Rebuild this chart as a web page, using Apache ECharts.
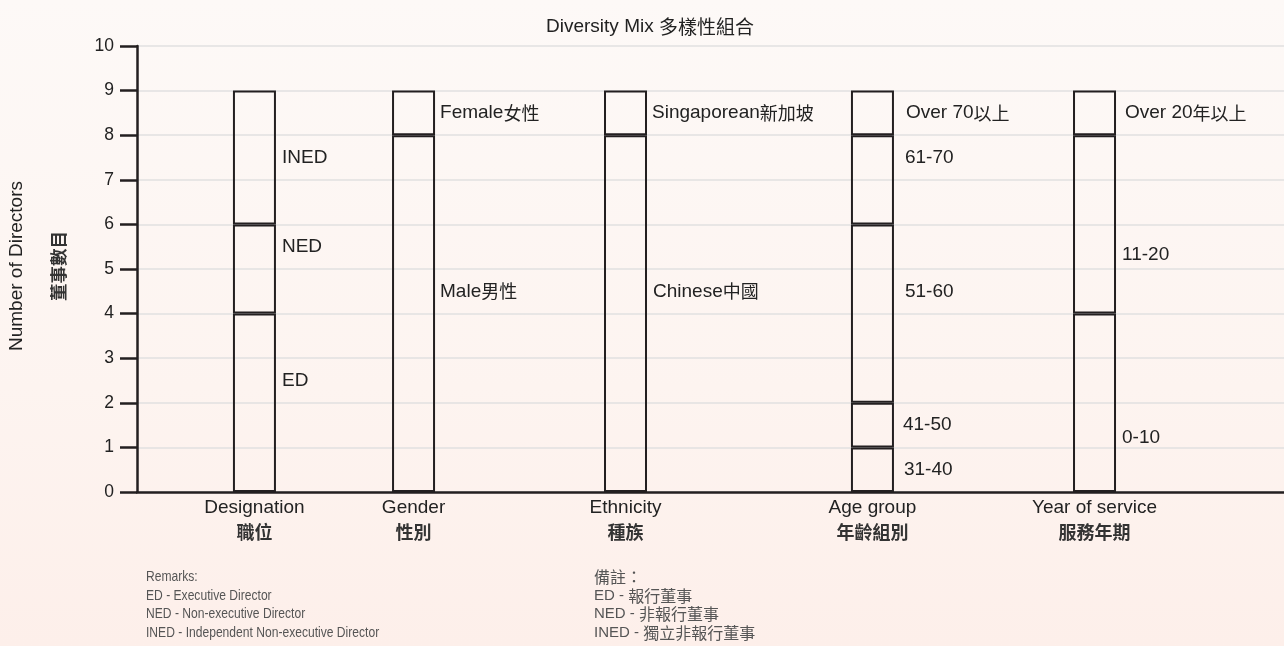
<!DOCTYPE html>
<html>
<head>
<meta charset="utf-8">
<script src="https://cdn.jsdelivr.net/npm/echarts@6/dist/echarts.min.js"></script>
<style>
html,body{margin:0;padding:0;}
body{width:1284px;height:646px;background:linear-gradient(180deg,#fdf9f7 0%,#fdf4f0 60%,#fdefea 100%);}
#chart{width:1284px;height:646px;}
</style>
</head>
<body>
<div id="chart"></div>
<script>
// ---------------- DATA ----------------
const categories = ['Designation', 'Gender', 'Ethnicity', 'Age group', 'Year of service'];
const categoriesZh = ['職位', '性別', '種族', '年齡組別', '服務年期'];

const designationValues = [4, 2, 3];
const designationLabels = ['ED', 'NED', 'INED'];
const genderValues = [8, 1];
const genderLabels = ['Male男性', 'Female女性'];
const ethnicityValues = [8, 1];
const ethnicityLabels = ['Chinese中國', 'Singaporean新加坡'];
const ageValues = [1, 1, 4, 2, 1];
const ageLabels = ['31-40', '41-50', '51-60', '61-70', 'Over 70以上'];
const serviceValues = [4, 4, 1];
const serviceLabels = ['0-10', '11-20', 'Over 20年以上'];

const yTickLabels = ['0', '1', '2', '3', '4', '5', '6', '7', '8', '9', '10'];

const titleText = 'Diversity Mix 多樣性組合';
const yNameEn = 'Number of Directors';
const yNameZh = '董事數目';
const remarksEn = ['Remarks:', 'ED - Executive Director', 'NED - Non-executive Director', 'INED - Independent Non-executive Director'];
const remarksZh = ['備註：', 'ED - 報行董事', 'NED - 非報行董事', 'INED - 獨立非報行董事'];

// ---------------- LAYOUT / STYLE ----------------
const groupValues = [designationValues, genderValues, ethnicityValues, ageValues, serviceValues];
const groupLabels = [designationLabels, genderLabels, ethnicityLabels, ageLabels, serviceLabels];
// horizontal slot of each group on a 0-100 x scale
const slotPos = [10.24, 24.11, 42.59, 64.12, 83.48];
// label nudges [distance, dy]
const labelNudge = {
  'ED': [6, -22], 'NED': [6, -22], 'INED': [6, 0],
  'Male男性': [5, -22], 'Female女性': [5, 0],
  'Chinese中國': [6, -22], 'Singaporean新加坡': [5, 0],
  '31-40': [10, 0], '41-50': [9, 0], '51-60': [11, -22], '61-70': [11, -22], 'Over 70以上': [12, 0],
  '0-10': [6, 35], '11-20': [6, 30], 'Over 20年以上': [9, 0]
};
const ink = '#231f20';
const textColor = '#222222';
const fontEn = '"Liberation Sans", Arial, "Noto Sans CJK TC", sans-serif';
const fontZh = '"Noto Sans CJK TC", sans-serif';
const toRich = s => s.replace(/([\u3000-\u9fff\uff00-\uffef]+)/g, '{zh|$1}');

const maxLevels = Math.max(...groupValues.map(v => v.length));
const series = [];
for (let k = 0; k < maxLevels; k++) {
  series.push({
    type: 'bar',
    stack: 'all',
    barWidth: 43,
    encode: { x: 1, y: 0 },
    itemStyle: { color: 'rgba(0,0,0,0)', borderColor: ink, borderWidth: 2 },
    emphasis: { disabled: true },
    data: groupValues.map((vals, i) => {
      if (k >= vals.length) return { value: ['-', slotPos[i]] };
      const name = groupLabels[i][k];
      const n = labelNudge[name] || [6, 0];
      return {
        value: [vals[k], slotPos[i]],
        label: {
          show: true, position: 'right', distance: n[0], offset: [0, n[1]],
          formatter: () => toRich(name), color: textColor, fontSize: 19, fontFamily: fontEn,
          rich: { zh: { fontSize: 18, color: textColor, fontFamily: fontZh } }
        }
      };
    })
  });
}

const chart = echarts.init(document.getElementById('chart'), null, { renderer: 'canvas' });
chart.setOption({
  backgroundColor: 'transparent',
  animation: false,
  title: {
    text: toRich(titleText), left: 645, top: 12, textAlign: 'center',
    textStyle: {
      fontSize: 19, fontWeight: 'normal', color: textColor, fontFamily: fontEn,
      rich: { zh: { fontSize: 19, color: textColor, fontFamily: fontZh } }
    }
  },
  grid: { left: 137, right: 0, top: 46, bottom: 154, containLabel: false },
  xAxis: {
    type: 'value', min: 0, max: 100,
    splitLine: { show: false },
    axisTick: { show: false },
    axisLine: { show: true, lineStyle: { color: ink, width: 2.5 } },
    axisLabel: {
      customValues: slotPos,
      margin: 4,
      formatter: function (v) {
        let best = 0;
        slotPos.forEach((p, i) => { if (Math.abs(p - v) < Math.abs(slotPos[best] - v)) best = i; });
        return categories[best] + '\n{zh|' + categoriesZh[best] + '}';
      },
      color: textColor, fontSize: 19, fontFamily: fontEn, lineHeight: 24,
      rich: { zh: { fontSize: 18, fontWeight: 'bold', lineHeight: 24, color: '#333', fontFamily: fontZh } }
    }
  },
  yAxis: {
    type: 'value', min: 0, max: 10, interval: 1,
    axisLine: { show: true, lineStyle: { color: ink, width: 2.5 } },
    axisTick: { show: true, length: 17, lineStyle: { color: ink, width: 2.5 } },
    splitLine: { show: true, lineStyle: { color: '#e1e1e1', width: 1.5 } },
    axisLabel: {
      margin: 23, fontSize: 17.5, color: textColor, fontFamily: fontEn,
      formatter: v => yTickLabels[Math.round(v)]
    }
  },
  graphic: [
    { type: 'text', x: 17, y: 266, rotation: Math.PI / 2,
      style: { text: yNameEn, fontSize: 19, fill: textColor, fontFamily: fontEn, align: 'center', verticalAlign: 'middle' } },
    { type: 'text', x: 58, y: 266, rotation: Math.PI / 2,
      style: { text: yNameZh, fontSize: 17.5, fontWeight: 'bold', fill: '#333', fontFamily: fontZh, align: 'center', verticalAlign: 'middle' } }
  ].concat(remarksEn.map((t, i) => ({
    type: 'text', x: 146, y: 577 + i * 18.5, scaleX: 0.806,
    style: { text: t, fontSize: 15, fill: '#555555', fontFamily: fontEn, verticalAlign: 'middle' }
  }))).concat(remarksZh.map((t, i) => ({
    type: 'text', x: 594, y: 577 + i * 18.5,
    style: {
      text: toRich(t), fontSize: 15, fill: '#555555', fontFamily: fontEn, verticalAlign: 'middle', lineHeight: 18,
      rich: { zh: { fontSize: 16, lineHeight: 18, fill: '#555555', fontFamily: fontZh } }
    }
  }))),
  series: series
});
</script>
</body>
</html>
